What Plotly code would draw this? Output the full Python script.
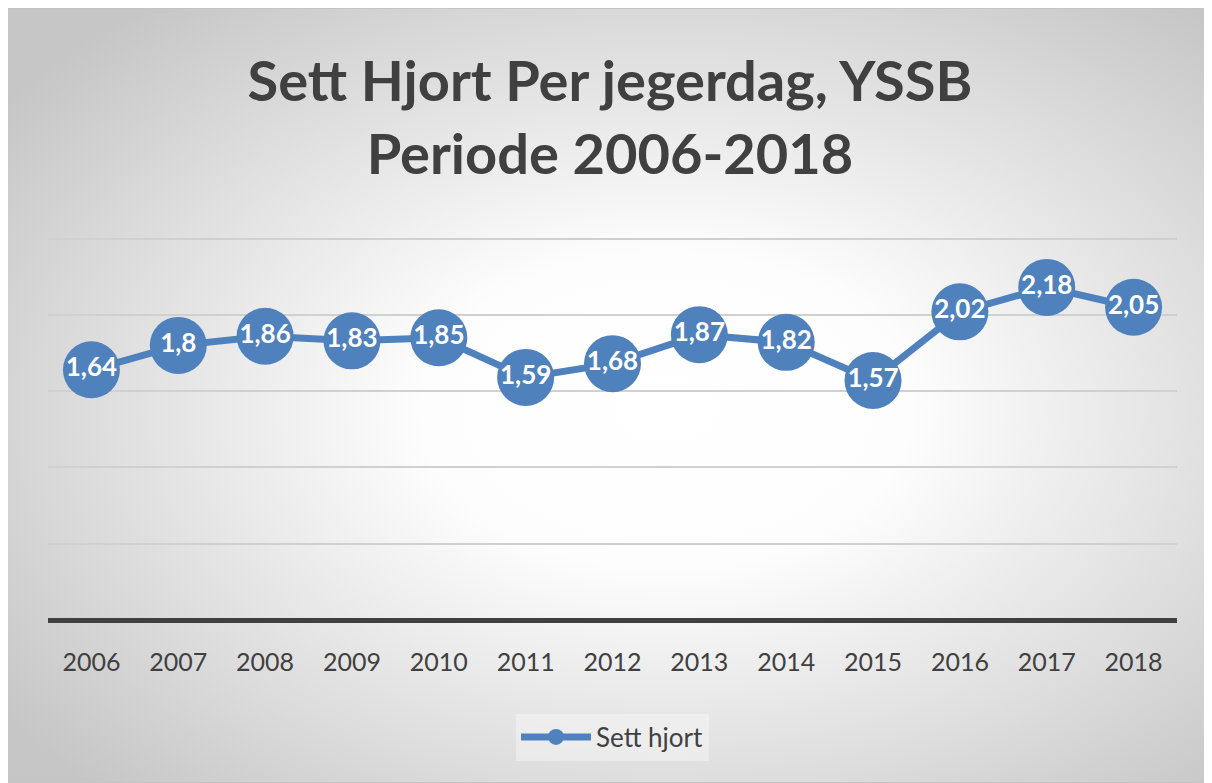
import base64
import plotly.graph_objects as go

years = ["2006", "2007", "2008", "2009", "2010", "2011", "2012",
         "2013", "2014", "2015", "2016", "2017", "2018"]
sett_hjort = [1.64, 1.80, 1.86, 1.83, 1.85, 1.59, 1.68, 1.87, 1.82, 1.57, 2.02, 2.18, 2.05]
labels = [f"{v:g}".replace(".", ",") for v in sett_hjort]

# page body adds an 8px offset; figure coordinates compensate for it
W, H = 1204, 775
L, R, T, B = 40, 35, 226, 163
pw, ph = W - L - R, H - T - B

FW, FH = 1199, 775
svg = f'''<svg xmlns="http://www.w3.org/2000/svg" width="{FW}" height="{FH}" viewBox="0 0 {FW} {FH}" preserveAspectRatio="none">
<defs><radialGradient id="g" cx="55%" cy="52%" r="68%" fx="55%" fy="52%">
<stop offset="0" stop-color="#ffffff"/><stop offset="0.3" stop-color="#fdfdfd"/><stop offset="1" stop-color="#c6c6c6"/>
</radialGradient></defs>
<rect x="0" y="0" width="{FW}" height="{FH}" fill="url(#g)" stroke="#c4c4c4" stroke-width="2"/>
</svg>'''
src = "data:image/svg+xml;base64," + base64.b64encode(svg.encode()).decode()

fig = go.Figure()
fig.add_trace(go.Scatter(
    x=years, y=sett_hjort, name="Sett hjort",
    mode="lines+markers+text",
    line=dict(color="#4F81BD", width=7),
    marker=dict(size=57, color="#4F81BD"),
    text=labels, textposition="middle center",
    textfont=dict(family="Lato", size=26, color="white", weight="bold"),
    cliponaxis=False,
))

fig.add_layout_image(dict(
    source=src, xref="paper", yref="paper",
    x=(-1 - L) / pw, y=(H - B) / ph,
    sizex=FW / pw, sizey=FH / ph,
    xanchor="left", yanchor="top", sizing="stretch", layer="below",
))

fig.update_layout(
    width=W, height=H,
    margin=dict(l=L, r=R, t=T, b=B),
    paper_bgcolor="white",
    plot_bgcolor="rgba(0,0,0,0)",
    title=dict(
        text="Sett Hjort Per jegerdag, YSSB<br>Periode 2006-2018",
        x=0.5, xanchor="center", y=1 - 93 / H, yanchor="middle",
        font=dict(family="Lato", size=56, color="#404040", weight="bold"),
    ),
    xaxis=dict(
        type="category", range=[-0.5, 12.5], showgrid=False,
        showline=False, ticks="", zeroline=False,
        tickfont=dict(family="Lato", size=25, color="#404040"),
        ticklabelstandoff=25,
    ),
    yaxis=dict(
        range=[0, 2.53], tickvals=[0.5, 1.0, 1.5, 2.0, 2.5], showticklabels=False,
        gridcolor="#d0d0d0", gridwidth=2,
        zeroline=True, zerolinecolor="#404040", zerolinewidth=5,
        showline=False, ticks="",
    ),
    showlegend=True,
    legend=dict(
        orientation="h", x=0.5, xanchor="center",
        yref="container", y=1 - 729 / H, yanchor="middle",
        font=dict(family="Lato", size=26, color="#404040"),
        bgcolor="rgba(248,248,248,0.45)", itemwidth=70,
    ),
)

fig.write_html("out.html")
